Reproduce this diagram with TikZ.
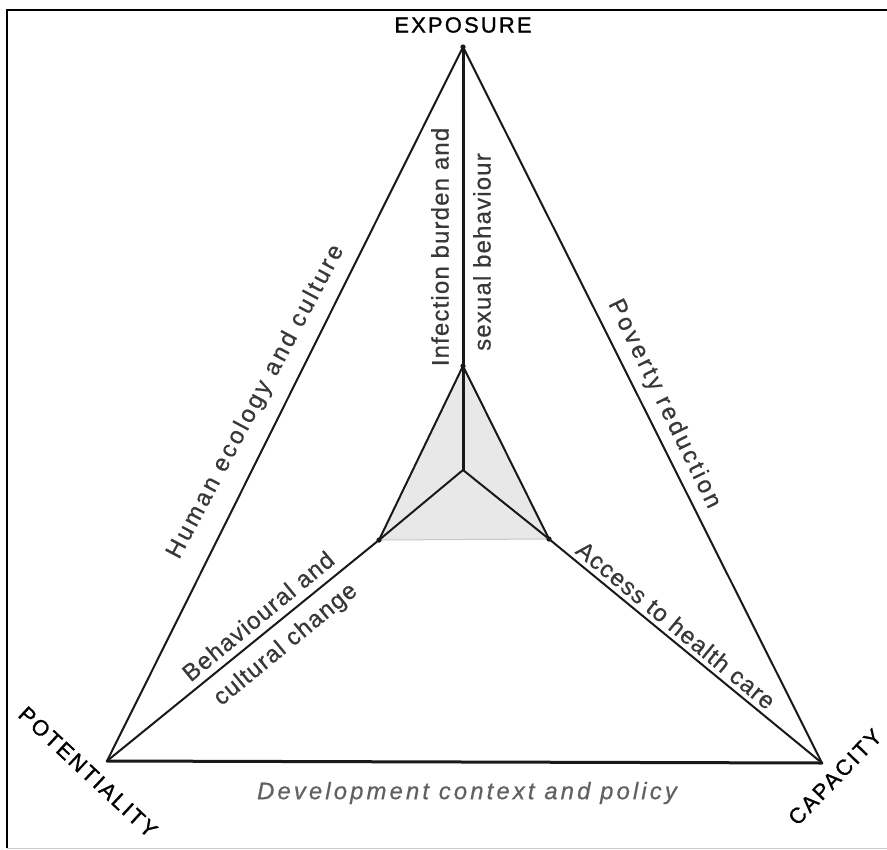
\documentclass[tikz,border=0pt]{standalone}
\usepackage{fontspec}
\setmainfont{Liberation Sans}
\begin{document}
\begin{tikzpicture}[x=1bp,y=-1bp,
  edge/.style={draw=black!90,line width=2bp,line cap=round},
  heavy/.style={draw=black!90,line width=3bp,line cap=round},
  faint/.style={draw=black!22,line width=1bp},
  framerule/.style={draw=black,line width=2.4bp},
  corner/.style={font=\fontsize{22}{26}\selectfont\addfontfeature{LetterSpace=10,FakeBold=1.2},text=black,inner sep=0pt},
  lbl/.style={font=\fontsize{24}{28}\selectfont\addfontfeature{LetterSpace=5,FakeBold=0.6},text=black!78,inner sep=0pt},
  widelbl/.style={font=\fontsize{24}{28}\selectfont\addfontfeature{LetterSpace=12,FakeBold=0.6},text=black!78,inner sep=0pt},
  dot/.style={fill=black!90}]
\useasboundingbox (0,0) rectangle (887,850);
\fill[white] (0,0) rectangle (887,850);

% frame of the figure
\coordinate (f1) at (887,10);
\coordinate (f2) at (7,10);
\coordinate (f3) at (7,848);
\coordinate (f4) at (887,848);
\draw[framerule] (f1) -- (f2) -- (f3);
\draw[draw=black!20,line width=1bp] (f3) -- (f4);

% outer and inner points
\coordinate (T) at (463,47);
\coordinate (L) at (107,761);
\coordinate (R) at (822,763);
\coordinate (C) at (463,470);
\coordinate (IT) at (463,366);
\coordinate (IL) at (379,540);
\coordinate (IR) at (549,539);

% shaded core
\fill[black!9] (IT) -- (IL) -- (IR) -- cycle;
\draw[faint] (IL) -- (IR);

% triangle and spokes
\draw[edge] (T) -- (L);
\draw[edge] (T) -- (R);
\draw[heavy] (L) -- (R);
\draw[heavy] (T) -- (C);
\draw[edge] (IT) -- (IL);
\draw[edge] (IT) -- (IR);
\draw[edge] (C) -- (IL);
\draw[edge] (C) -- (IR);
\draw[edge] (IL) -- (L);
\draw[edge] (IR) -- (R);
\foreach \p in {T,IT,IL,IR} \fill[dot] (\p) circle (2.6);

% corner names
\node[corner] (nexp) at (463,25) {EXPOSURE};
\node[corner,rotate=-43] (npot) at (88,772) {POTENTIALITY};
\node[corner,rotate=46] (ncap) at (835,777) {CAPACITY};

% side labels
\node[widelbl,rotate=62] (nhum) at (256,402) {Human ecology and culture};
\node[widelbl,rotate=-64] (npov) at (664,404) {Poverty reduction};
\node[lbl,rotate=90] (ninf) at (440,247) {Infection burden and};
\node[lbl,rotate=90] (nsex) at (482,252) {sexual behaviour};
\node[lbl,rotate=-39.4] (nacc) at (676,625) {Access to health care};
\node[lbl,rotate=39.5] (nbeh) at (258,616) {Behavioural and};
\node[lbl,rotate=39.5] (ncul) at (286,645) {cultural change};
\node[lbl,text=black!62,font=\fontsize{24}{28}\selectfont\itshape\addfontfeature{LetterSpace=13,FakeBold=0.6}] (ndev) at (467,793) {Development context and policy};
\end{tikzpicture}
\end{document}
